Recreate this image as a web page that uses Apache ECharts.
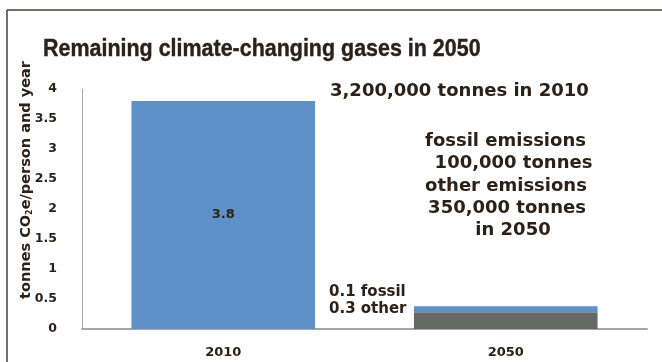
<!DOCTYPE html>
<html>
<head>
<meta charset="utf-8">
<script src="https://cdn.jsdelivr.net/npm/echarts@6/dist/echarts.min.js"></script>
<style>html,body{margin:0;padding:0;background:#fff}#c{width:662px;height:362px}</style>
</head>
<body>
<div id="c"></div>
<script>
var categories = ['2010', '2050'];
var total2010 = [3.8, null];
var other2050 = [null, 0.28];
var fossil2050 = [null, 0.1];
var yTicks = [0, 0.5, 1, 1.5, 2, 2.5, 3, 3.5, 4];

var SANS = '"Liberation Sans", Arial, sans-serif';
var WIDE = '"DejaVu Sans", sans-serif';
var TXT = '#2b2119';
var chart = echarts.init(document.getElementById('c'));
chart.setOption({
  backgroundColor: '#fff',
  animation: false,
  grid: {left: 82, right: 15, top: 89, bottom: 33},
  xAxis: {
    type: 'category', data: categories,
    axisLine: {lineStyle: {color: '#a6a6a6', width: 2}},
    axisTick: {show: false},
    axisLabel: {fontFamily: WIDE, fontSize: 13, fontWeight: 'bold', color: TXT, margin: 17}
  },
  yAxis: {
    type: 'value', min: 0, max: 4, interval: 0.5,
    axisLine: {show: true, lineStyle: {color: '#a6a6a6', width: 1}},
    axisTick: {show: false},
    splitLine: {show: false},
    axisLabel: {fontFamily: WIDE, fontSize: 12.5, fontWeight: 'bold', color: TXT, margin: 25,
      formatter: function (v) { return yTicks.indexOf(v) >= 0 ? String(v) : ''; }}
  },
  series: [
    {type: 'bar', stack: 's', data: total2010, barWidth: '65%', itemStyle: {color: '#5f91c8'},
      label: {show: true, position: 'inside', fontFamily: WIDE, fontSize: 13, fontWeight: 'bold', color: TXT}},
    {type: 'bar', stack: 's', data: other2050, barWidth: '65%', itemStyle: {color: '#666866'}},
    {type: 'bar', stack: 's', data: fossil2050, barWidth: '65%', itemStyle: {color: '#5f91c8'}}
  ],
  graphic: [
    {type: 'line', shape: {x1: 7, y1: 10, x2: 662, y2: 10}, style: {stroke: '#4a3f35', lineWidth: 1.5}},
    {type: 'line', shape: {x1: 7, y1: 10, x2: 7, y2: 362}, style: {stroke: '#4a3f35', lineWidth: 1.5}},
    {type: 'text', x: 26, y: 180, rotation: Math.PI / 2, style: {
      text: '{a|tonnes CO}{s|2}{a|e/person and year}', align: 'center', verticalAlign: 'middle',
      rich: {
        a: {font: 'bold 14.5px ' + WIDE, fill: TXT},
        s: {font: 'bold 8px ' + WIDE, fill: TXT, verticalAlign: 'bottom', padding: [7, 0, 0, 0]}
      }}},
    {type: 'text', x: 43, y: 49, scaleX: 0.894, style: {text: 'Remaining climate-changing gases in 2050',
      font: 'bold 24px ' + SANS, fill: TXT, stroke: TXT, lineWidth: 0.4, verticalAlign: 'middle'}},
    {type: 'text', x: 330, y: 91, style: {text: '3,200,000 tonnes in 2010', font: 'bold 18px ' + WIDE, fill: TXT, verticalAlign: 'middle'}},
    {type: 'text', x: 505.5, y: 141, style: {text: 'fossil emissions', font: 'bold 18px ' + WIDE, fill: TXT, align: 'center', verticalAlign: 'middle'}},
    {type: 'text', x: 513.5, y: 163.5, style: {text: '100,000 tonnes', font: 'bold 18px ' + WIDE, fill: TXT, align: 'center', verticalAlign: 'middle'}},
    {type: 'text', x: 506, y: 186.5, style: {text: 'other emissions', font: 'bold 18px ' + WIDE, fill: TXT, align: 'center', verticalAlign: 'middle'}},
    {type: 'text', x: 507, y: 208.5, style: {text: '350,000 tonnes', font: 'bold 18px ' + WIDE, fill: TXT, align: 'center', verticalAlign: 'middle'}},
    {type: 'text', x: 513, y: 230, style: {text: 'in 2050', font: 'bold 18px ' + WIDE, fill: TXT, align: 'center', verticalAlign: 'middle'}},
    {type: 'text', x: 329, y: 292, style: {text: '0.1 fossil', font: 'bold 15px ' + WIDE, fill: TXT, verticalAlign: 'middle'}},
    {type: 'text', x: 329, y: 309, style: {text: '0.3 other', font: 'bold 15px ' + WIDE, fill: TXT, verticalAlign: 'middle'}}
  ]
});
</script>
</body>
</html>
